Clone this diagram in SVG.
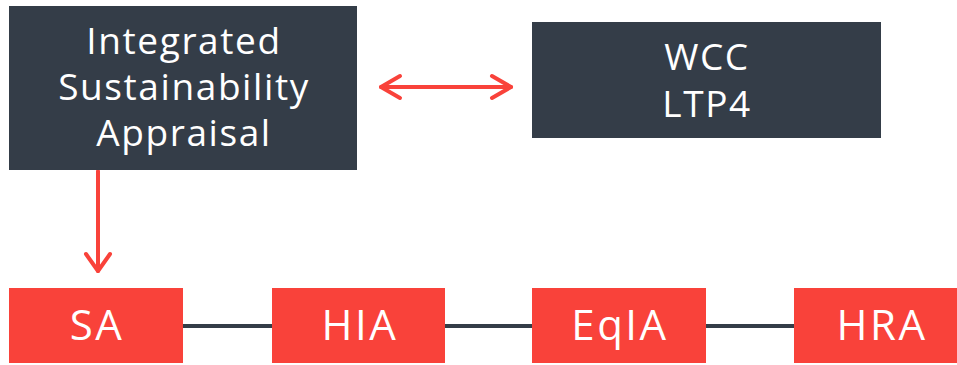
<svg xmlns="http://www.w3.org/2000/svg" width="957" height="365" viewBox="0 0 957 365">
<defs>
<style>
.dark{fill:#343d48}
.red{fill:#f9423a}
.t{font-family:"Open Sans","Noto Sans","Liberation Sans",sans-serif;fill:#ffffff;text-anchor:middle}
.tt{font-size:37px;letter-spacing:1.6px}
.tb{font-size:42px;letter-spacing:2.5px}
.arrow{stroke:#f9423a;stroke-width:4;fill:none;stroke-linecap:round;stroke-linejoin:round}
.link{stroke:#343d48;stroke-width:4;fill:none}
</style>
</defs>
<rect width="957" height="365" fill="#ffffff"/>
<g id="connectors">
<line class="link" x1="183" y1="326" x2="272" y2="326"/>
<line class="link" x1="445" y1="326" x2="532" y2="326"/>
<line class="link" x1="706" y1="326" x2="794" y2="326"/>
<line class="arrow" x1="98" y1="171" x2="98" y2="271"/>
<polyline class="arrow" points="86,254 98,271 110,254"/>
<line class="arrow" x1="381" y1="87" x2="511" y2="87"/>
<polyline class="arrow" points="400,76 381,87 400,98"/>
<polyline class="arrow" points="492,76 511,87 492,98"/>
</g>
<g id="isa">
<rect class="dark" x="9" y="6" width="348" height="164"/>
<text class="t tt" x="184" y="54">Integrated</text>
<text class="t tt" x="184" y="100">Sustainability</text>
<text class="t tt" x="184" y="146">Appraisal</text>
</g>
<g id="wcc">
<rect class="dark" x="532" y="22" width="349" height="116"/>
<text class="t tt" x="707" y="70">WCC</text>
<text class="t tt" x="707" y="117">LTP4</text>
</g>
<g id="sa">
<rect class="red" x="9" y="288" width="174" height="75"/>
<text class="t tb" x="97" y="340">SA</text>
</g>
<g id="hia">
<rect class="red" x="272" y="288" width="173" height="75"/>
<text class="t tb" x="360" y="340">HIA</text>
</g>
<g id="eqia">
<rect class="red" x="532" y="288" width="174" height="75"/>
<text class="t tb" x="620" y="340">EqIA</text>
</g>
<g id="hra">
<rect class="red" x="794" y="288" width="174" height="75"/>
<text class="t tb" x="882" y="340">HRA</text>
</g>
</svg>
